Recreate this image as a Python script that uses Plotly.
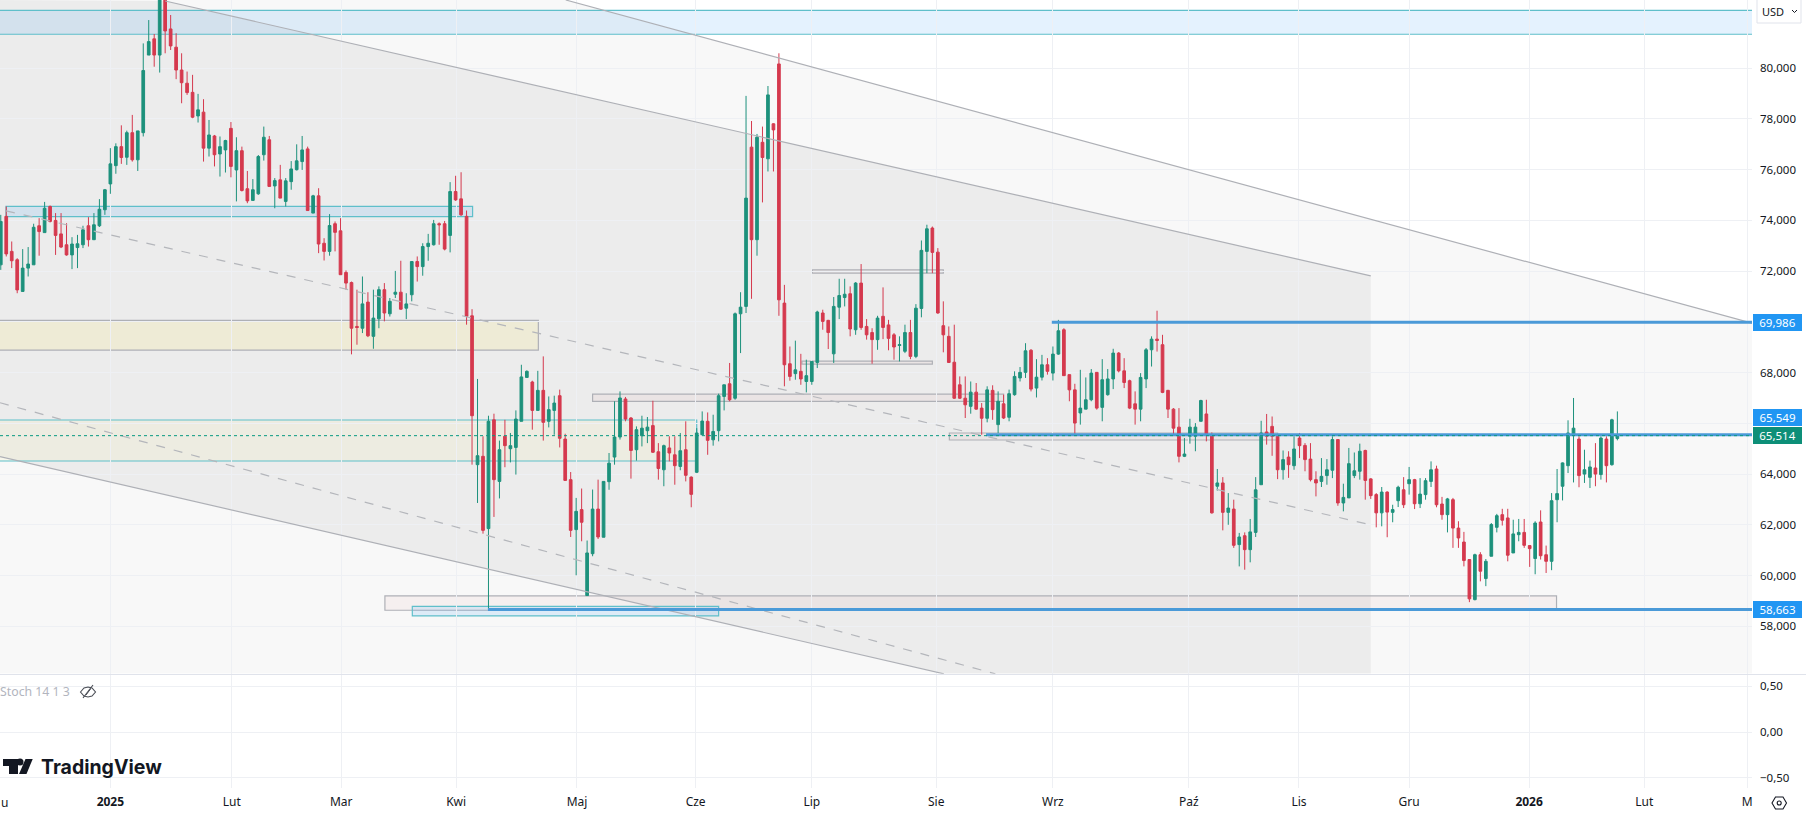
import numpy as np
import plotly.graph_objects as go
from plotly.subplots import make_subplots

highs = [
    74220,74550,73170,72510,72870,72950,73870,74090,74730,74590,
    74290,74290,73890,73340,73430,73790,74130,74290,74840,75240,
    76850,77040,77750,77540,78160,77530,80980,81900,81350,83400,
    83000,82100,81380,80590,79870,79740,78990,78780,77960,77370,
    77310,77180,77880,77280,76910,75950,75630,76580,77700,77330,
    75670,76190,75670,76340,77000,77330,76910,75010,75270,73300,
    74250,73960,74090,72030,71590,71270,71790,71170,71270,71400,
    71530,70940,72010,72410,71130,72380,72580,73100,73470,74020,
    73920,73980,75510,75760,75900,74390,70500,67750,65490,66300,
    66380,65320,66140,65620,66510,68310,68090,67680,68070,68640,
    67060,67090,67330,65590,64080,63060,63430,61380,63390,63780,
    63710,64830,66870,67260,67040,66250,65880,66300,66250,66890,
    65220,65160,65490,65490,65620,66080,63910,65810,66470,66430,
    66340,67170,67520,68380,70370,71170,78910,77920,77410,77700,
    79300,77830,80590,71460,69030,69260,68740,68510,68440,70440,
    70480,70080,70980,71700,71700,71400,71570,72280,70110,69750,
    70240,71360,70080,69560,69430,69890,70080,70700,73210,73830,
    73760,72910,70810,69820,69890,67850,67850,67650,67590,66800,
    67460,67500,67260,67130,67330,68050,68220,69160,68930,68530,
    68700,68570,69030,70080,69750,67920,67560,68110,67810,68140,
    68010,68530,68140,68940,68810,68570,67720,67260,67980,68970,
    69430,70440,69490,67320,66600,66600,65420,66180,66010,66930,
    66930,65640,64200,63880,63250,62990,61680,61700,62230,63880,
    66100,66370,66270,65550,64930,64900,65490,65620,65220,65220,
    64110,64630,64590,65490,65360,63620,65030,64850,65200,64960,
    63840,63250,63490,63320,62790,63540,63880,64280,63810,63840,
    63840,64500,64330,63100,63060,63060,62140,61720,60650,60860,
    60920,60650,62070,62430,62630,62630,62200,62230,62230,61180,
    62140,62570,61180,63250,64200,64460,66120,67000,65490,64960,
    64530,65220,65490,65490,66180,66470,
]
lows = [
    72050,72580,72120,71130,71200,71790,72250,72610,73520,73920,
    72640,72910,72610,72080,72120,72910,72970,73240,73740,74220,
    75050,75840,76230,76190,76320,75950,77310,80520,80060,79830,
    80590,80720,79570,78620,78950,78030,77860,76320,76520,76130,
    75730,75890,75700,74750,75140,74680,74790,75010,76360,75340,
    74480,74880,74550,75210,75970,75990,74390,74290,72710,72420,
    72610,72780,71860,71270,68720,69100,69560,69400,68940,69750,
    70020,70210,70940,70480,70110,70810,71590,71820,72410,73010,
    73040,72820,72740,74770,74180,69890,64370,62860,61650,58660,
    62310,63040,64270,64460,63980,66080,67790,65750,66510,65320,
    65840,65550,65050,63740,61520,60010,61350,59210,60760,61440,
    61510,63380,64370,65360,66080,63820,64530,65090,65220,64830,
    63780,63520,64500,63580,64150,63710,62690,64040,65550,64760,
    65120,65290,66510,66870,66930,68770,70350,70910,72610,74710,
    75930,75930,70240,67460,67680,67720,67520,67220,67520,68180,
    69690,68930,68380,70110,70610,69430,69490,69690,69300,68350,
    68900,69320,68880,68510,68440,68770,68530,68570,70180,71920,
    71920,70320,68800,68380,66960,66960,66210,66380,66540,65550,
    66040,66140,65620,66170,66080,67090,67650,67790,67260,67020,
    67690,67920,67690,68700,67880,66870,65550,65950,66560,66870,
    66540,66080,67090,67350,68010,67390,66560,65950,66080,67390,
    68240,68830,67190,66210,65550,64460,64670,65200,64900,66080,
    65290,62440,63350,61780,62000,61090,60360,60230,60520,61520,
    63580,65160,64720,63800,63780,63850,64170,64630,64110,63710,
    63120,63490,63580,63840,62750,62530,63060,63840,63780,62990,
    63020,61900,61940,61510,62100,62700,62660,63190,62620,62660,
    62990,63490,62690,62200,61700,61090,61090,60360,58950,59020,
    59770,59580,60760,61700,61970,60560,60890,61350,61090,60340,
    60050,60630,60100,60210,62100,62960,64040,63670,63480,63650,
    63450,63520,63780,63670,64330,65330,
]
opens = [
    72250,74160,72780,72450,71200,72120,72250,73790,73520,74550,
    74000,73470,73040,72640,72930,73040,73790,73240,73790,74420,
    75440,76160,76910,76490,77460,76390,77460,80520,81160,80520,
    82900,81550,80830,79930,79410,79050,78120,78270,76850,77330,
    76620,76780,77630,75990,76750,75250,74790,75050,76590,77180,
    75360,75600,74750,75530,76000,76320,76820,74290,74970,73100,
    72780,73870,73590,71950,71550,69820,69750,70780,69430,70120,
    71270,70320,71090,71170,70540,71070,72380,72180,72970,73040,
    73870,73870,73410,75140,74850,74160,70240,64370,64700,61850,
    66140,63710,65490,65000,65050,66080,67810,67630,66510,67300,
    66080,66510,67090,65380,63780,61810,62600,59210,60860,62620,
    61510,63700,64670,65460,66960,66210,64960,65510,65710,65910,
    64880,64170,65030,64760,64300,64960,63880,64070,65550,66080,
    65350,65710,67060,67560,66990,70320,70610,76890,73240,77080,
    76430,77810,80170,70740,68350,67960,68050,67650,67650,68400,
    70350,70060,68740,70580,70960,71110,69690,71530,69820,69580,
    69300,70220,69880,69490,69070,68840,69580,68640,70530,72780,
    73700,72750,69850,69430,68410,67520,66990,66670,67230,66600,
    66200,67300,65950,66770,66240,67130,67790,68010,68880,67390,
    67820,68310,67980,68730,69690,67920,67320,66410,66560,66930,
    68010,66630,67130,67750,68770,68070,67680,66770,66560,67750,
    68900,69320,69100,67300,66560,65850,64700,65490,65490,66080,
    66370,65550,63520,63650,62490,62620,61220,61570,61020,61700,
    63580,65660,65880,65490,64170,64670,64330,65420,65130,64590,
    63780,63710,63940,64150,65360,62860,63060,63940,64110,64930,
    63810,63190,62470,63290,62490,62950,63380,63620,63780,62830,
    63190,63710,64200,62820,62400,62990,61870,61320,60630,59050,
    60820,59880,60760,61900,62400,62270,60890,61610,61700,61180,
    60670,62110,60820,60560,62990,63520,64330,65550,65380,64000,
    63870,64240,63980,65380,64370,65400,
]
closes = [
    73960,72680,72410,71260,72120,72280,73730,73560,74480,73960,
    73410,72950,72640,73070,73080,73630,73240,73830,74440,75210,
    76230,76910,76480,77460,76390,77530,79910,81050,80520,82900,
    81470,80880,79930,79430,79040,78070,78360,76850,77370,76590,
    76910,77150,76130,76750,75180,74770,75210,76520,77280,75340,
    75570,74880,75560,76030,76350,76780,74390,74970,73070,72780,
    73800,73530,71860,71530,69750,69780,70710,69450,70150,71270,
    70350,70810,71170,70500,70710,72380,72180,72970,73100,73870,
    73830,72870,75140,74810,74220,70220,66300,64725,61780,66080,
    63780,64960,65120,65120,66170,67830,68050,66510,67300,66040,
    66540,66800,65410,63750,61780,62530,62100,60890,62620,61520,
    63710,64430,65460,67000,66170,64930,65750,65810,65850,64860,
    64220,65120,64830,64330,64920,63950,63200,65620,66090,65330,
    65680,67090,67520,66930,70320,70580,74880,73240,77280,76480,
    78950,77570,70870,68310,67850,68110,67750,67880,68440,70390,
    70020,69580,70610,71040,71090,69720,71530,69780,69490,69300,
    70150,69780,69350,69010,69100,69580,68640,70540,72820,73670,
    72740,70350,69490,68400,66990,66990,66730,67230,66560,66200,
    67320,66540,66870,66210,67170,67850,68010,68860,67350,67820,
    68310,68050,68730,69650,67880,67320,66010,66600,66930,67980,
    66600,67720,67750,68770,68070,67610,66600,66560,67810,68900,
    69320,69270,67220,66560,65810,64700,64790,65850,65850,66900,
    65550,62470,63650,62490,62660,61190,61520,61020,61720,63380,
    65620,65490,65490,64170,64570,64370,64990,65120,64570,63780,
    63650,63910,64170,65360,62860,63080,64410,64130,64900,63750,
    63150,62470,63290,62500,62600,63480,62790,63780,62830,63210,
    63740,64170,62790,62400,63020,61870,61480,60590,59080,60820,
    60170,60560,62010,62360,62180,60800,61640,61700,61190,61060,
    62070,60780,60560,62950,63230,64440,65620,65810,63940,64170,
    64280,64000,65420,64330,66140,65514,
]

month_ticks = [20, 42.14, 62.13, 83.1, 105.15, 126.8, 148, 170.7, 192, 216.8, 236.9, 257, 278.9, 299.9, 318.7]
month_labels = ["<b>2025</b>", "Lut", "Mar", "Kwi", "Maj", "Cze", "Lip", "Sie", "Wrz", "Paź", "Lis", "Gru", "<b>2026</b>", "Lut", "M"]
price_ticks = list(range(58000, 82000, 2000))
# 66,000 sits behind the price tags, so its label stays empty
price_labels = ["" if p == 66000 else f"{p:,}" for p in price_ticks]
stoch_ticks = [0.5, 0, -0.5]
stoch_labels = ["0,50", "0,00", "−0,50"]

bar_min, bar_max = -0.14, 319.57
price_min, price_max = 56123, 82691

# price levels drawn as thick blue rays: start bar, price
level_bars = [191.8, 179.8, 88.9]
level_prices = [69986, 65549, 58663]

# channel lines: bar0, price0, bar1, price1
outer_line = [103.1, 82691, 319.57, 69953]
mid_line = [30, 82652, 250, 71816]
dash_line_1 = [0.96, 74377, 249.9, 62005]
dash_line_2 = [-0.14, 66812, 181.5, 56123]
low_line = [-0.14, 64685, 172.1, 56123]

TEAL = "#5fbfca"
GRAY = "#aeb0b6"
BLUE_FILL = "rgba(33,150,243,0.12)"
YELLOW_FILL = "rgba(250,235,130,0.2)"
PALE_YELLOW_FILL = "rgba(250,235,130,0.1)"
PINK_FILL = "rgba(230,190,190,0.15)"
GRID = "#eef0f4"
TEXT = "#131722"
FONT = "Noto Sans"

# zones: bar0, bar1, low, high, fill, border (left/right edges past the range are clipped)
zones = [
    (-5, 325, 81340, 82285, BLUE_FILL, TEAL),
    (0.96, 86.1, 74147, 74555, BLUE_FILL, TEAL),
    (-5, 98.1, 68889, 70056, YELLOW_FILL, GRAY),
    (-5, 127, 64516, 66131, PALE_YELLOW_FILL, TEAL),
    (70.1, 283.9, 58630, 59196, PINK_FILL, GRAY),
    (75.1, 131, 58408, 58786, BLUE_FILL, TEAL),
    (148.1, 172, 71923, 72053, PINK_FILL, GRAY),
    (146.2, 170, 68337, 68455, PINK_FILL, GRAY),
    (108, 183, 66864, 67155, PINK_FILL, GRAY),
    (173.1, 233, 65343, 65619, PINK_FILL, GRAY),
]


def xp(px):
    return px / 1752


def yp(py):
    return (788 - py) / 788


def px_path(points, close=True):
    d = "M " + " L ".join(f"{xp(x)},{yp(y)}" for x, y in points)
    return d + (" Z" if close else "")


def line_shape(coords, color=GRAY, dash="solid"):
    return dict(type="line", xref="x", yref="y", x0=coords[0], y0=coords[1], x1=coords[2], y1=coords[3],
                line=dict(color=color, width=1.2, dash=dash), layer="above")


fig = make_subplots(rows=2, cols=1, shared_xaxes=True, vertical_spacing=0.001, row_heights=[0.856, 0.144])

bars = np.arange(len(opens))
fig.add_trace(go.Candlestick(
    x=bars, open=opens, high=highs, low=lows, close=closes,
    increasing=dict(line=dict(color="#1d917c", width=1), fillcolor="#1d917c"),
    decreasing=dict(line=dict(color="#d5394e", width=1), fillcolor="#d5394e"),
    whiskerwidth=0, showlegend=False, hoverinfo="skip",
), row=1, col=1)
# Stoch is hidden in the chart, this only keeps the lower pane's axes
fig.add_trace(go.Scatter(x=[0], y=[0], mode="lines", showlegend=False, hoverinfo="skip"), row=2, col=1)

shapes = []
# channel backgrounds
shapes.append(dict(type="path", xref="x", yref="y", layer="below", line=dict(width=0),
                   fillcolor="rgba(0,0,0,0.026)",
                   path=f"M {outer_line[0]},{outer_line[1]} L {outer_line[2]},{outer_line[3]} "
                        f"L {bar_max},{price_min} L {bar_min},{price_min} L {bar_min},{price_max} Z"))
shapes.append(dict(type="path", xref="x", yref="y", layer="below", line=dict(width=0),
                   fillcolor="rgba(0,0,0,0.046)",
                   path=f"M {bar_min},{price_max} L {mid_line[0]},{mid_line[1]} L {mid_line[2]},{mid_line[3]} "
                        f"L {mid_line[2]},{price_min} L {low_line[2]},{price_min} L {low_line[0]},{low_line[1]} Z"))
for b0, b1, low, high, fill, border in zones:
    shapes.append(dict(type="rect", xref="x", yref="y", x0=b0, x1=b1, y0=low, y1=high, layer="below",
                       fillcolor=fill, line=dict(color=border, width=1.2)))
shapes += [line_shape(outer_line), line_shape(mid_line), line_shape(low_line),
           line_shape(dash_line_1, "#b4b6bb", "dash"), line_shape(dash_line_2, "#b4b6bb", "dash")]
for b0, price in zip(level_bars, level_prices):
    shapes.append(dict(type="line", xref="x", yref="y", x0=b0, x1=bar_max, y0=price, y1=price, layer="above",
                       line=dict(color="#4b9ad8", width=3)))
shapes.append(dict(type="line", xref="x", yref="y", x0=bar_min, x1=bar_max, y0=65514, y1=65514, layer="above",
                   line=dict(color="#089981", width=1, dash="dot")))
# pane separator
shapes.append(dict(type="line", xref="paper", yref="paper", x0=0, x1=1806 / 1752, y0=yp(674.5), y1=yp(674.5),
                   line=dict(color="#e0e3eb", width=1)))
# USD button
shapes.append(dict(type="rect", xref="paper", yref="paper", x0=xp(1757), x1=xp(1801), y0=yp(23), y1=yp(-2),
                   line=dict(color="#e0e3eb", width=1), fillcolor="white"))
shapes.append(dict(type="path", xref="paper", yref="paper", line=dict(color=TEXT, width=1),
                   path=px_path([(1792, 10), (1794.5, 12.5), (1797, 10)], close=False)))
# settings icon
shapes.append(dict(type="path", xref="paper", yref="paper", line=dict(color=TEXT, width=1.1),
                   path=px_path([(1772, 803), (1775.5, 797), (1783, 797), (1786.5, 803), (1783, 809), (1775.5, 809)])))
shapes.append(dict(type="circle", xref="paper", yref="paper", x0=xp(1777.2), x1=xp(1781.2), y0=yp(805), y1=yp(801),
                   line=dict(color=TEXT, width=1.1)))
# hidden-eye icon next to the Stoch legend
shapes.append(dict(type="path", xref="paper", yref="paper", line=dict(color="#4a4d55", width=1.1),
                   path=px_path([(80.5, 692), (84, 688), (88, 687), (92, 688), (95.5, 692), (92, 696), (88, 697), (84, 696)])))
shapes.append(dict(type="line", xref="paper", yref="paper", x0=xp(83), x1=xp(93), y0=yp(698), y1=yp(685),
                   line=dict(color="#4a4d55", width=1.1)))
shapes.append(dict(type="line", xref="paper", yref="paper", x0=xp(86), x1=xp(90.5), y0=yp(695), y1=yp(689),
                   line=dict(color="#4a4d55", width=1)))
# TradingView logo mark
shapes.append(dict(type="path", xref="paper", yref="paper", line=dict(width=0), fillcolor=TEXT,
                   path=px_path([(3, 759), (18, 759), (18, 774), (9, 774), (9, 766), (3, 766)])))
shapes.append(dict(type="circle", xref="paper", yref="paper", x0=xp(16.5), x1=xp(23.5), y0=yp(765.5), y1=yp(758.5),
                   line=dict(width=0), fillcolor=TEXT))
shapes.append(dict(type="path", xref="paper", yref="paper", line=dict(width=0), fillcolor=TEXT,
                   path=px_path([(32.7, 759), (25.5, 759), (19, 774), (26.5, 774)])))

annotations = []
# price tags on the right
tags = [(69986, "69,986", "#2196f3", 0), (65549, "65,549", "#2196f3", 17), (65514, "65,514", "#0d8f78", 0), (58663, "58,663", "#2196f3", 0)]
for price, label, color, shift in tags:
    annotations.append(dict(xref="paper", yref="y", x=xp(1753), y=price, yshift=shift, xanchor="left", yanchor="middle",
                            showarrow=False, text=label, bgcolor=color, width=44, height=12, borderpad=2.5, borderwidth=0,
                            font=dict(family=FONT, size=11.5, color="white")))
annotations += [
    dict(xref="paper", yref="paper", x=xp(1760), y=yp(11), xanchor="left", yanchor="middle", showarrow=False, text="USD",
         font=dict(family=FONT, size=11, color=TEXT)),
    dict(xref="paper", yref="paper", x=0, y=yp(691.5), xanchor="left", yanchor="middle", showarrow=False, text="Stoch 14 1 3",
         xshift=-2, font=dict(family=FONT, size=12.3, color="#b2b5be")),
    dict(xref="paper", yref="paper", x=xp(39), y=yp(767), xanchor="left", yanchor="middle", showarrow=False,
         text="<b>TradingView</b>", font=dict(family="Inter", size=19.5, color=TEXT)),
    dict(xref="paper", yref="paper", x=0, y=yp(802), xanchor="left", yanchor="middle", showarrow=False, text="u", xshift=-1,
         font=dict(family=FONT, size=12, color=TEXT)),
]

fig.update_layout(
    width=1806, height=814,
    margin=dict(l=0, r=54, t=0, b=26),
    paper_bgcolor="white", plot_bgcolor="white",
    showlegend=False,
    font=dict(family=FONT, size=12, color=TEXT),
    shapes=shapes, annotations=annotations,
)
fig.update_xaxes(range=[bar_min, bar_max], rangeslider_visible=False, tickvals=month_ticks, ticktext=month_labels,
                 showgrid=True, gridcolor=GRID, gridwidth=1, zeroline=False, showline=False, ticks="",
                 tickangle=0)
fig.update_xaxes(showticklabels=False, row=1, col=1)
fig.update_xaxes(showticklabels=True, ticklabelstandoff=5, tickfont=dict(family=FONT, size=12, color=TEXT), row=2, col=1)
fig.update_yaxes(side="right", gridcolor=GRID, gridwidth=1, zeroline=False, showline=False, ticks="",
                 tickfont=dict(family=FONT, size=11.5, color=TEXT), ticklabelstandoff=7)
fig.update_yaxes(range=[price_min, price_max], tickvals=price_ticks, ticktext=price_labels, row=1, col=1)
fig.update_yaxes(range=[-0.609, 0.625], tickvals=stoch_ticks, ticktext=stoch_labels, row=2, col=1)

fig.write_html("out.html", config=dict(displayModeBar=False), post_script="document.body.style.margin='0';")
